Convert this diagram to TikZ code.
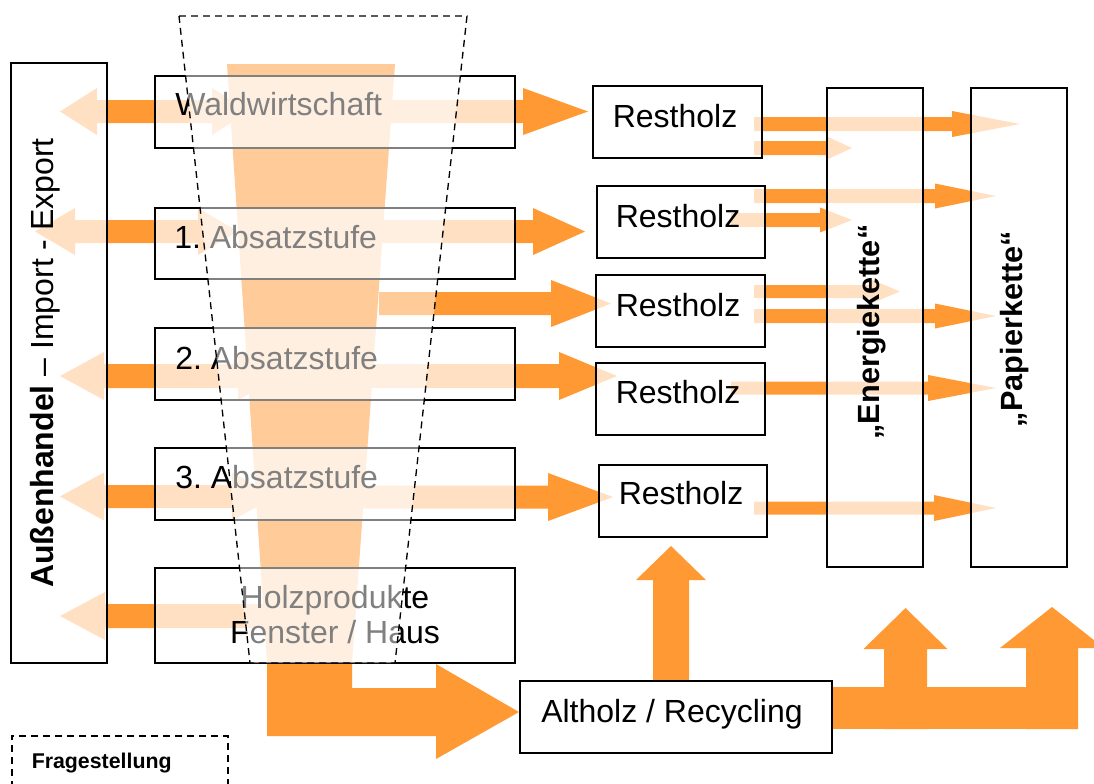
\documentclass[tikz,border=0pt]{standalone}
\usepackage{fontspec}
\setmainfont{Liberation Sans}
\frenchspacing
\definecolor{flow}{HTML}{FF9933}

% block arrows, all sizes in pixel units of the drawing
% right arrow: tail x, tip x, centre y, shaft half, head half, head length
\newcommand\arrR[6]{\fill[flowfill] (#1,#3-#4) -- (#2-#6,#3-#4) -- (#2-#6,#3-#5) -- (#2,#3)
  -- (#2-#6,#3+#5) -- (#2-#6,#3+#4) -- (#1,#3+#4) -- cycle;}
% left arrow: tail x (right), tip x (left), centre y, shaft half, head half, head length
\newcommand\arrL[6]{\fill[flowfill] (#1,#3-#4) -- (#2+#6,#3-#4) -- (#2+#6,#3-#5) -- (#2,#3)
  -- (#2+#6,#3+#5) -- (#2+#6,#3+#4) -- (#1,#3+#4) -- cycle;}
% double arrow: left tip, right tip, centre y, shaft half, head half, head length
\newcommand\arrLR[6]{\fill[flowfill] (#1,#3) -- (#1+#6,#3-#5) -- (#1+#6,#3-#4) -- (#2-#6,#3-#4)
  -- (#2-#6,#3-#5) -- (#2,#3) -- (#2-#6,#3+#5) -- (#2-#6,#3+#4) -- (#1+#6,#3+#4)
  -- (#1+#6,#3+#5) -- cycle;}
% up arrow: centre x, tail y, tip y, shaft half, head half, head length
\newcommand\arrU[6]{\fill[flowfill] (#1-#4,#2) -- (#1-#4,#3+#6) -- (#1-#5,#3+#6) -- (#1,#3)
  -- (#1+#5,#3+#6) -- (#1+#4,#3+#6) -- (#1+#4,#2) -- cycle;}
% framed box given by its corners
\newcommand\pxbox[5]{\node[box, minimum width={(#4-#2)*0.75pt},
  minimum height={(#5-#3)*0.75pt}] (#1) at (#2,#3) {};}

\begin{document}
\begin{tikzpicture}[x=0.75pt, y=-0.75pt,
  flowfill/.style={fill=flow},
  box/.style={draw=black, line width=1pt, fill=white, fill opacity=0.7,
    inner sep=0pt, outer sep=0pt, anchor=north west},
  txt/.style={inner sep=0pt, anchor=base west, font=\fontsize{24}{28}\selectfont},
  ctxt/.style={inner sep=0pt, anchor=base, font=\fontsize{24}{28}\selectfont},
  vtxt/.style={inner sep=0pt, anchor=base, rotate=90,
    font=\bfseries\fontsize{23}{27}\selectfont},
  dashline/.style={draw=black, line width=1pt, dash pattern=on 5.2pt off 3.8pt}]

\useasboundingbox (0,0) rectangle (1094,783);
\clip (0,0) rectangle (1094,783);

% wood flow funnel bending into the recycling arrow
\fill[flowfill] (227,64) -- (395,64) -- (352,663) -- (352,688) -- (436,688) -- (436,664)
  -- (519,712) -- (436,759) -- (436,736) -- (267,736) -- (267,663) -- cycle;

% import / export and flows to the residue boxes
\arrLR{60}{249}{111.5}{11.5}{23.5}{37}
\arrR{300}{588}{111.5}{11.5}{23.5}{65}
\arrLR{35}{238}{231.5}{11.5}{23.5}{40}
\arrR{300}{585}{231.5}{11.5}{23.5}{52}
\arrR{379}{611}{303.5}{11.5}{23.5}{60}
\arrLR{60}{282}{376}{12}{24}{44}
\arrR{320}{617}{376}{12}{24}{58}
\arrLR{60}{276}{496.5}{11.5}{24}{44}
\arrR{320}{613}{497}{11.5}{24}{65}
\arrL{300}{60}{616}{12}{24}{45}

% residue to energy and paper chains
\arrR{754}{1020}{124}{7}{13}{68}
\arrR{754}{852}{148}{7}{11.5}{25}
\arrR{754}{996}{196}{7}{12.5}{61}
\arrR{731}{852}{220}{7}{12.5}{32}
\arrR{754}{900}{291.5}{6.5}{12.5}{30}
\arrR{754}{996}{316}{7}{12.5}{61}
\arrR{731}{996}{388}{6.5}{13}{68}
\arrR{754}{996}{508}{6.5}{13}{62}

% recycling flows
\arrU{671}{681}{546}{18}{35}{34}
\fill[flowfill] (832,687) rectangle (1078,729);
\arrU{905.5}{729}{608}{21.5}{42}{41}
\arrU{1052}{729}{607}{26}{52}{41}

% boxes
\pxbox{aussenbox}{11}{63}{107}{663}
\pxbox{wald}{155}{76}{515}{148}
\pxbox{abs1}{155}{208}{515}{279}
\pxbox{abs2}{155}{328}{515}{400}
\pxbox{abs3}{155}{448}{515}{520}
\pxbox{holz}{155}{568}{515}{663}
\pxbox{rest1}{593}{86}{762}{158}
\pxbox{rest2}{597}{186}{765}{258}
\pxbox{rest3}{596}{275}{765}{347}
\pxbox{rest4}{596}{363}{765}{435}
\pxbox{rest5}{599}{465}{767}{537}
\pxbox{energie}{827}{88}{923}{567}
\pxbox{papier}{971}{88}{1067}{567}
\pxbox{altholz}{520}{681}{832}{753}

% texts
\node[vtxt, font=\fontsize{24}{28}\selectfont] (aussentxt) at (53,363)
  {\textbf{Außenhandel} – Import - Export};
\node[txt] (waldtxt) at (175,115) {Waldwirtschaft};
\node[txt] (abs1txt) at (174,248) {1. Absatzstufe};
\node[txt] (abs2txt) at (175,369) {2. Absatzstufe};
\node[txt] (abs3txt) at (175,488) {3. Absatzstufe};
\node[ctxt] (holztxt) at (335,608) {Holzprodukte};
\node[ctxt] (fenstertxt) at (335,643) {Fenster / Haus};
\node[txt] (rest1txt) at (612.5,127) {Restholz};
\node[txt] (rest2txt) at (615.5,227) {Restholz};
\node[txt] (rest3txt) at (615.5,316) {Restholz};
\node[txt] (rest4txt) at (615.5,403) {Restholz};
\node[txt] (rest5txt) at (618.5,504) {Restholz};
\node[txt] (altholztxt) at (541,722) {Altholz / Recycling};
\node[vtxt] (energietxt) at (879,332) {„Energiekette“};
\node[vtxt] (papiertxt) at (1022,329) {„Papierkette“};

% veil over the question funnel
\fill[white, fill opacity=0.5] (179,16) -- (467,16) -- (395,663) -- (250,663) -- cycle;
\draw[dashline] (179,16) -- (467,16) -- (395,663) -- (250,663) -- cycle;

% question box
\draw[dashline, line width=1.4pt] (11.7,800) -- (11.7,735.7) -- (227.7,735.7) -- (227.7,800);
\node[inner sep=0pt, anchor=base west, font=\bfseries\fontsize{16}{19}\selectfont]
  (frage) at (31.5,768) {Fragestellung};
\end{tikzpicture}
\end{document}
